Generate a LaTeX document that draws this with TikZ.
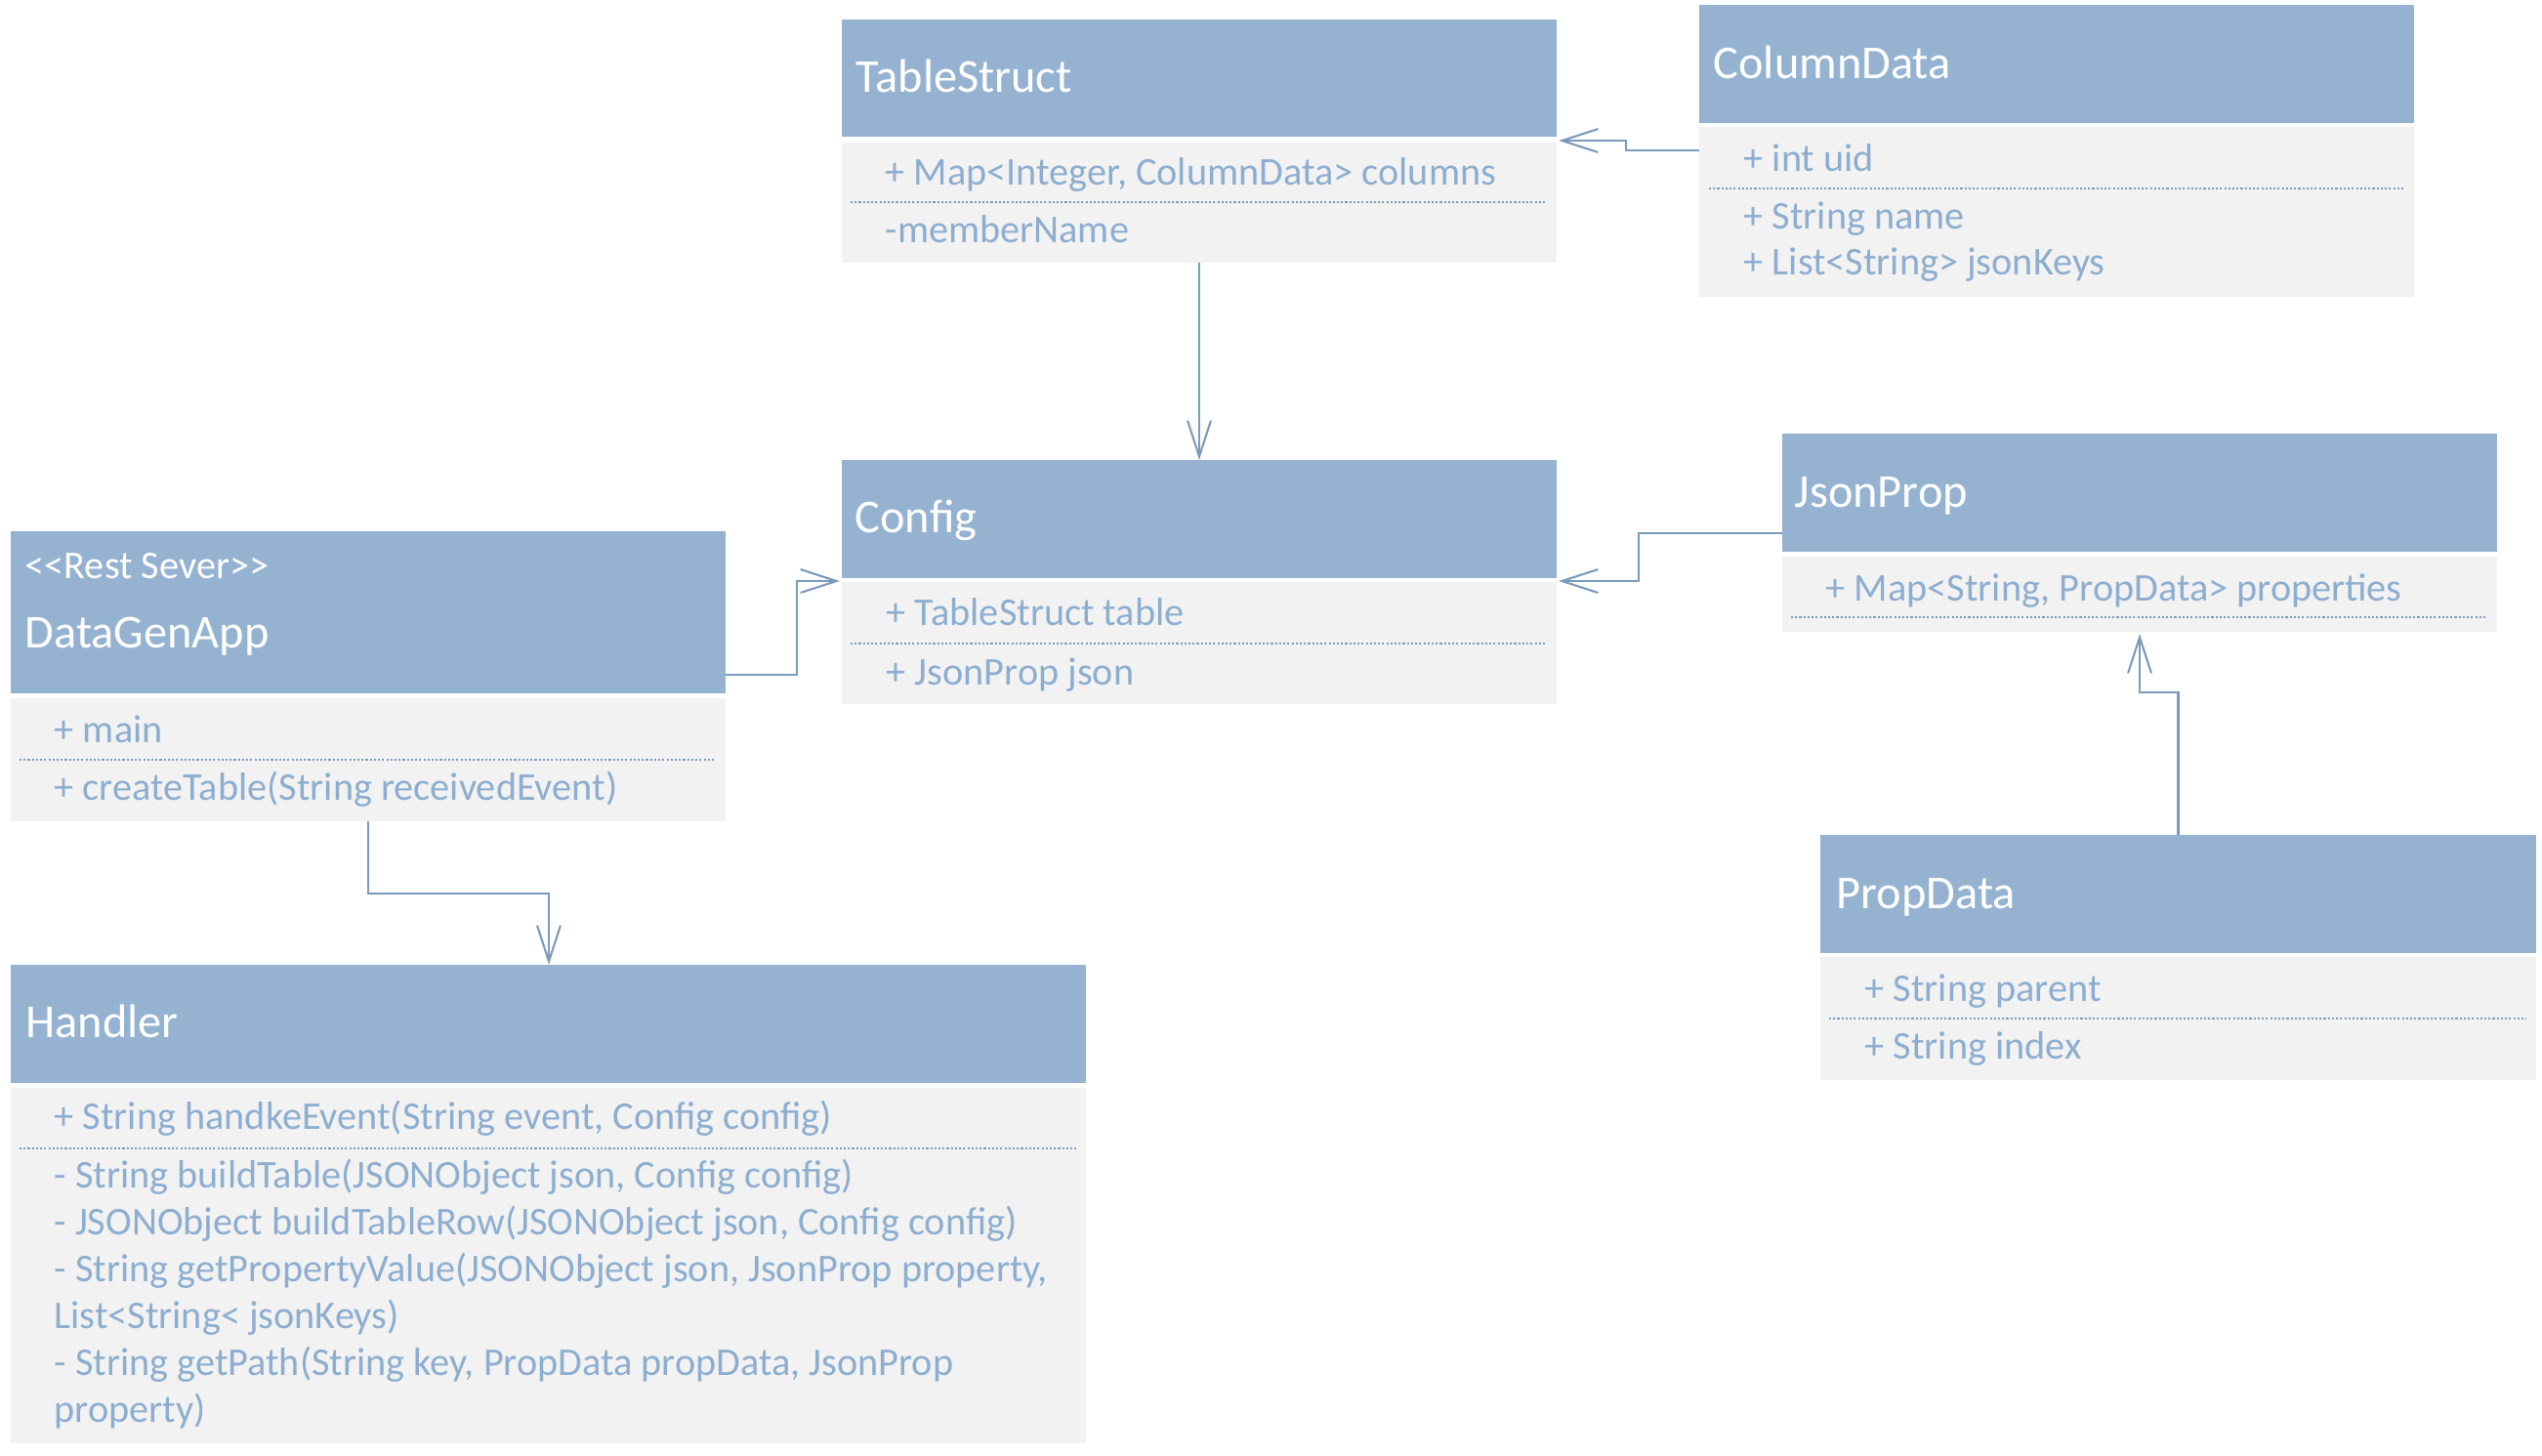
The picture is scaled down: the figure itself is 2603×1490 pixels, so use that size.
\documentclass[tikz,border=0pt]{standalone}
\usepackage{fontspec}
\setmainfont{Carlito}
\usetikzlibrary{arrows.meta,calc}
\definecolor{hdrblue}{RGB}{149,179,209}
\definecolor{bodygray}{RGB}{242,242,242}
\definecolor{txtblue}{RGB}{141,174,208}
\definecolor{lineblue}{RGB}{124,155,187}
\newcommand{\umlrect}[6]{%
  \node[#6, anchor=north west, minimum width={(#4-#2)*0.01cm}, minimum height={(#5-#3)*0.01cm}] (#1) at (#2,#3) {};}
\tikzset{
  hdrbox/.style={rectangle, fill=hdrblue, draw=none, inner sep=0pt, outer sep=0pt},
  bodybox/.style={rectangle, fill=bodygray, draw=none, inner sep=0pt, outer sep=0pt},
  ttl/.style={anchor=base west, inner sep=0pt, text=white, font=\fontsize{13.75pt}{16pt}\selectfont},
  stereo/.style={anchor=base west, inner sep=0pt, text=white, font=\fontsize{11.45pt}{13.7pt}\selectfont},
  attr/.style={anchor=base west, inner sep=0pt, text=txtblue, font=\fontsize{11.45pt}{13.7pt}\selectfont},
  sepline/.style={draw=lineblue, line width=0.45pt, dash pattern=on 0.6pt off 0.6pt},
  assoc/.style={draw=lineblue, line width=0.6pt, -{Straight Barb[length=10.5pt, width=6.8pt, line width=0.6pt]}},
}
\begin{document}
\begin{tikzpicture}[x=0.01cm, y=-0.01cm]
\useasboundingbox (0,0) rectangle (2603,1490);
% boxes
\umlrect{tsh}{862}{20}{1594}{140}{hdrbox}
\umlrect{tsb}{862}{146}{1594}{269}{bodybox}
\umlrect{cdh}{1740}{5}{2472}{126}{hdrbox}
\umlrect{cdb}{1740}{130}{2472}{304}{bodybox}
\umlrect{cfh}{862}{471}{1594}{592}{hdrbox}
\umlrect{cfb}{862}{596}{1594}{721}{bodybox}
\umlrect{jph}{1825}{444}{2557}{565}{hdrbox}
\umlrect{jpb}{1825}{570}{2557}{647}{bodybox}
\umlrect{dgh}{11}{544}{743}{710}{hdrbox}
\umlrect{dgb}{11}{715}{743}{841}{bodybox}
\umlrect{hdh}{11}{988}{1112}{1109}{hdrbox}
\umlrect{hdb}{11}{1114}{1112}{1478}{bodybox}
\umlrect{pdh}{1864}{855}{2597}{976}{hdrbox}
\umlrect{pdb}{1864}{980}{2597}{1106}{bodybox}
% TableStruct
\node[ttl] (tsT) at (876,94) {TableStruct};
\node[attr] (tsA1) at (906,189) {+ Map<Integer, ColumnData> columns};
\draw[sepline] (871,207) -- (1583,207);
\node[attr] (tsA2) at (906,248) {-memberName};
% ColumnData
\node[ttl] (cdT) at (1754,80) {ColumnData};
\node[attr] (cdA1) at (1785,175) {+ int uid};
\draw[sepline] (1750,193) -- (2462,193);
\node[attr] (cdA2) at (1785,234) {+ String name};
\node[attr] (cdA3) at (1785,281) {+ List<String> jsonKeys};
% Config
\node[ttl] (cfT) at (875,545) {Config};
\node[attr] (cfA1) at (907,640) {+ TableStruct table};
\draw[sepline] (871,659) -- (1583,659);
\node[attr] (cfA2) at (907,701) {+ JsonProp json};
% JsonProp
\node[ttl] (jpT) at (1837,519) {JsonProp};
\node[attr] (jpA1) at (1869,615) {+ Map<String, PropData> properties};
\draw[sepline] (1834,632) -- (2547,632);
% DataGenApp
\node[stereo] (dgS) at (25,592) {<\kern0pt<Rest Sever>\kern0pt>};
\node[ttl] (dgT) at (25,663) {DataGenApp};
\node[attr] (dgA1) at (55,760) {+ main};
\draw[sepline] (20,778) -- (733,778);
\node[attr] (dgA2) at (55,819) {+ createTable(String receivedEvent)};
% Handler
\node[ttl] (hdT) at (26,1062) {Handler};
\node[attr] (hdA1) at (55,1156) {+ String handkeEvent(String event, Config config)};
\draw[sepline] (20,1176) -- (1102,1176);
\node[attr] (hdA2) at (55,1216) {- String buildTable(JSONObject json, Config config)};
\node[attr] (hdA3) at (55,1264) {- JSONObject buildTableRow(JSONObject json, Config config)};
\node[attr] (hdA4) at (55,1312) {- String getPropertyValue(JSONObject json, JsonProp property,};
\node[attr] (hdA5) at (55,1360) {List<String< jsonKeys)};
\node[attr] (hdA6) at (55,1408) {- String getPath(String key, PropData propData, JsonProp};
\node[attr] (hdA7) at (55,1456) {property)};
% PropData
\node[ttl] (pdT) at (1880,930) {PropData};
\node[attr] (pdA1) at (1909,1025) {+ String parent};
\draw[sepline] (1873,1043) -- (2587,1043);
\node[attr] (pdA2) at (1909,1084) {+ String index};
% connectors
\draw[assoc] ($(cdb.north west)+(0,24)$) -- ++(-75,0) |- ($(tsh.south east)+(2,4)$);
\draw[assoc] (tsb.south) -- (cfh.north);
\draw[assoc] ($(dgh.south east)+(0,-19)$) -- ++(73,0) |- ($(cfh.south west)+(-2,3)$);
\draw[assoc] ($(jph.south west)+(0,-19)$) -- ++(-147,0) |- ($(cfh.south east)+(2,3)$);
\draw[assoc] (dgb.south) -- ++(0,74) -| ($(hdh.north west)+(551,0)$);
\draw[assoc] (pdh.north) -- ++(0,-146) -| ($(jpb.south)+(0,2)$);
\end{tikzpicture}
\end{document}
